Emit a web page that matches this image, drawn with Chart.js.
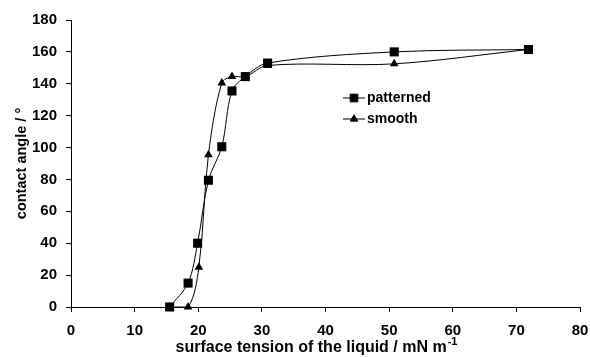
<!DOCTYPE html>
<html>
<head>
<meta charset="utf-8">
<script src="https://cdn.jsdelivr.net/npm/chart.js@4.4.0/dist/chart.umd.min.js"></script>
<style>
  html, body { margin: 0; padding: 0; background: #fff; }
  #wrap { width: 590px; height: 357px; }
</style>
</head>
<body>
<div id="wrap"><canvas id="chart" width="590" height="357"></canvas></div>
<script>
// --- data ---
const patternedX = [15.5, 18.4, 19.9, 21.6, 23.7, 25.3, 27.4, 30.9, 50.8, 71.9];
const patternedY = [0, 15, 40, 79.5, 100.5, 135.5, 144.5, 153, 160, 161.5];
const smoothX = [15.5, 18.4, 20.1, 21.6, 23.7, 25.3, 27.4, 30.9, 50.8, 71.9];
const smoothY = [0, 0, 25, 95.5, 140.5, 144.5, 144.5, 151.5, 152.5, 161.5];
const seriesNames = ["patterned", "smooth"];
const xTicks = [0, 10, 20, 30, 40, 50, 60, 70, 80];
const yTicks = [0, 20, 40, 60, 80, 100, 120, 140, 160, 180];
const xTitle = "surface tension of the liquid / mN m";
const xTitleSup = "-1";
const yTitle = "contact angle / \u00B0";

const FONT = "'Liberation Sans', Arial, sans-serif";

function toPoints(xs, ys) {
  return xs.map((x, i) => ({ x: x, y: ys[i] }));
}

// legend inside the plot, Excel style (line + marker + label)
const innerLegend = {
  id: "innerLegend",
  afterDraw(chart) {
    const ctx = chart.ctx;
    const rowsY = [98, 119];
    ctx.save();
    chart.data.datasets.forEach((ds, i) => {
      const y = rowsY[i];
      ctx.strokeStyle = "#000";
      ctx.lineWidth = 1;
      ctx.beginPath();
      ctx.moveTo(343, y);
      ctx.lineTo(365, y);
      ctx.stroke();
      ctx.fillStyle = "#000";
      Chart.helpers.drawPoint(ctx, {
        pointStyle: ds.pointStyle,
        radius: ds.pointRadius * 0.85,
        borderWidth: 1,
        rotation: 0
      }, 354, y);
      ctx.font = "bold 14px " + FONT;
      ctx.textBaseline = "middle";
      ctx.textAlign = "left";
      ctx.fillText(seriesNames[i], 367, y + 0.5);
    });
    ctx.restore();
  }
};

// x axis title with a raised "-1"
const xTitlePlugin = {
  id: "xTitlePlugin",
  afterDraw(chart) {
    const ctx = chart.ctx;
    ctx.save();
    ctx.fillStyle = "#000";
    ctx.textBaseline = "alphabetic";
    ctx.textAlign = "left";
    ctx.font = "bold 16px " + FONT;
    const w1 = ctx.measureText(xTitle).width;
    ctx.font = "bold 11px " + FONT;
    const w2 = ctx.measureText(xTitleSup).width;
    const x0 = 316 - (w1 + w2) / 2;
    ctx.font = "bold 16px " + FONT;
    ctx.fillText(xTitle, x0, 352);
    ctx.font = "bold 11px " + FONT;
    ctx.fillText(xTitleSup, x0 + w1 + 1, 345);
    ctx.restore();
  }
};

const ctx = document.getElementById("chart").getContext("2d");
const chart = new Chart(ctx, {
  type: "scatter",
  data: {
    datasets: [
      {
        label: seriesNames[0],
        data: toPoints(patternedX, patternedY),
        showLine: true,
        tension: 0.33,
        borderColor: "#000",
        borderWidth: 1,
        backgroundColor: "#000",
        pointStyle: "rect",
        pointRadius: 6.4,
        pointBorderWidth: 0,
        clip: 6
      },
      {
        label: seriesNames[1],
        data: toPoints(smoothX, smoothY),
        showLine: true,
        tension: 0.33,
        borderColor: "#000",
        borderWidth: 1,
        backgroundColor: "#000",
        pointStyle: "triangle",
        pointRadius: 5,
        pointBorderWidth: 0,
        clip: 6
      }
    ]
  },
  options: {
    responsive: false,
    animation: false,
    layout: { padding: { top: 20, right: 10, left: 0, bottom: 0 } },
    plugins: {
      legend: { display: false },
      tooltip: { enabled: false }
    },
    scales: {
      x: {
        type: "linear",
        min: 0,
        max: 80,
        afterFit(scale) {
          scale.height = 50;
          scale.paddingLeft = 0;
          scale.paddingRight = 0;
        },
        afterBuildTicks(scale) { scale.ticks = xTicks.map(v => ({ value: v })); },
        grid: { display: true, drawOnChartArea: false, drawTicks: true, tickLength: 5, color: "#000" },
        border: { display: true, color: "#000", width: 1 },
        ticks: { color: "#000", padding: 10, font: { family: FONT, size: 15, weight: "bold" }, maxRotation: 0 }
      },
      y: {
        type: "linear",
        min: 0,
        max: 180,
        afterFit(scale) {
          scale.width = 71;
          scale.paddingTop = 0;
          scale.paddingBottom = 0;
        },
        afterBuildTicks(scale) { scale.ticks = yTicks.map(v => ({ value: v })); },
        grid: { display: true, drawOnChartArea: false, drawTicks: true, tickLength: 5, color: "#000" },
        border: { display: true, color: "#000", width: 1 },
        ticks: { color: "#000", padding: 9, font: { family: FONT, size: 15, weight: "bold" } },
        title: {
          display: true,
          text: yTitle,
          color: "#000",
          font: { family: FONT, size: 14.5, weight: "bold" },
          padding: { top: 13, bottom: 0 }
        }
      }
    }
  },
  plugins: [innerLegend, xTitlePlugin]
});
</script>
</body>
</html>
